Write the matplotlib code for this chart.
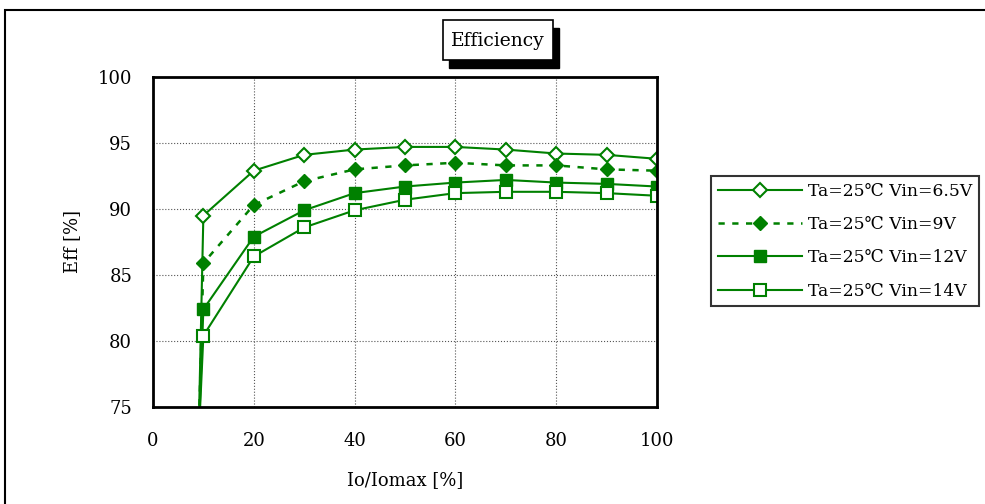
import matplotlib
matplotlib.use("Agg")
import matplotlib.pyplot as plt
from matplotlib.patches import Rectangle

plt.rcParams['font.family'] = ['DejaVu Serif', 'Noto Sans CJK JP', 'DejaVu Sans']

# load ratio (%) and efficiency (%) per input voltage
load = [9, 10, 20, 30, 40, 50, 60, 70, 80, 90, 100]
eff_65v = [72.0, 89.5, 92.9, 94.1, 94.5, 94.7, 94.7, 94.5, 94.2, 94.1, 93.8]
eff_9v = [72.0, 85.9, 90.3, 92.1, 93.0, 93.3, 93.5, 93.3, 93.3, 93.0, 92.9]
eff_12v = [72.0, 82.4, 87.9, 89.9, 91.2, 91.7, 92.0, 92.2, 92.0, 91.9, 91.7]
eff_14v = [72.0, 80.4, 86.4, 88.6, 89.9, 90.7, 91.2, 91.3, 91.3, 91.2, 91.0]
labels = ['Ta=25℃ Vin=6.5V', 'Ta=25℃ Vin=9V', 'Ta=25℃ Vin=12V', 'Ta=25℃ Vin=14V']

green = '#008000'

fig = plt.figure(figsize=(9.85, 5.04), dpi=100)
W, H = 985.0, 504.0
# outer frame
fig.patches.append(Rectangle((0.005, -0.01), 1.2, 0.99, transform=fig.transFigure,
                             fill=False, edgecolor='black', linewidth=1.5))

ax = fig.add_axes([0.1553, 0.1925, 0.5117, 0.6548])

ax.plot(load, eff_65v, color=green, lw=1.5, marker='D', ms=7.5, mfc='white',
        mec=green, mew=1.5, label=labels[0])
ax.plot(load, eff_9v, color=green, lw=1.8, ls=(0, (2.5, 3)), marker='D', ms=7.5,
        mfc=green, mec=green, label=labels[1])
ax.plot(load, eff_12v, color=green, lw=1.5, marker='s', ms=8.5, mfc=green,
        mec=green, label=labels[2])
ax.plot(load, eff_14v, color=green, lw=1.5, marker='s', ms=8.5, mfc='white',
        mec=green, mew=1.5, label=labels[3])

ax.set_xlim(0, 100)
ax.set_ylim(75, 100)
ax.set_xticks(range(0, 101, 20))
ax.set_yticks(range(75, 101, 5))
ax.tick_params(axis='y', labelsize=13, length=0, pad=15)
ax.tick_params(axis='x', labelsize=13, length=0, pad=18)
ax.grid(True, color='#555555', linestyle=':', linewidth=0.8)
for s in ax.spines.values():
    s.set_linewidth(2)

ax.set_xlabel('Io/Iomax [%]', fontsize=13, labelpad=15)
ax.set_ylabel('Eff [%]', fontsize=13, labelpad=12)

# title box with drop shadow
fig.patches.append(Rectangle((449 / W, 1 - 68 / H), 110 / W, 40 / H, transform=fig.transFigure,
                             facecolor='black', edgecolor='black', zorder=1))
fig.patches.append(Rectangle((443 / W, 1 - 60 / H), 110 / W, 40 / H, transform=fig.transFigure,
                             facecolor='white', edgecolor='black', lw=1.2, zorder=2))
fig.text(498 / W, 1 - 41 / H, 'Efficiency', fontsize=13.5, ha='center', va='center', zorder=5)

leg = fig.legend(loc='upper left', bbox_to_anchor=(711 / W, 1 - 176 / H), fontsize=12.3,
                 handlelength=4.9, frameon=True, fancybox=False, edgecolor='black',
                 borderaxespad=0, labelspacing=0.95, handletextpad=0.4,
                 borderpad=0.4)
leg.get_frame().set_linewidth(1.5)

fig.savefig('out.png', dpi=100)
